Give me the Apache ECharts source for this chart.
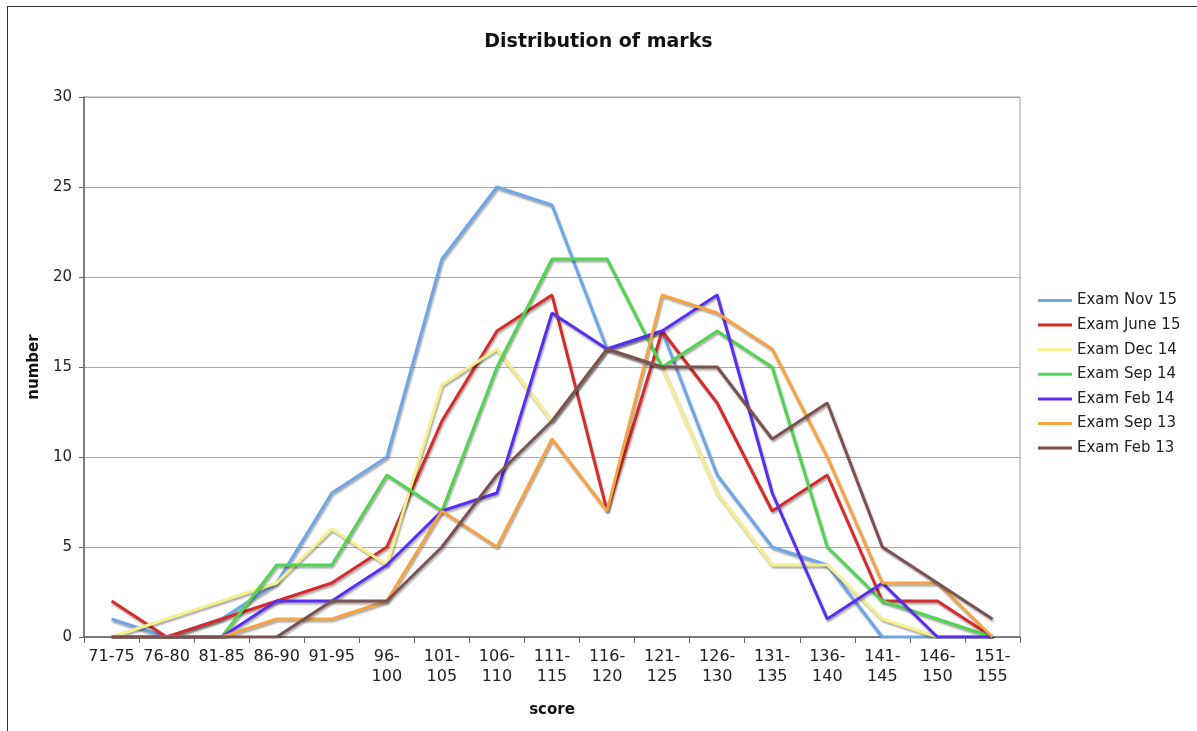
<!DOCTYPE html>
<html>
<head>
<meta charset="utf-8">
<script src="https://cdn.jsdelivr.net/npm/echarts@6/dist/echarts.min.js"></script>
<style>
html,body{margin:0;padding:0;background:#fff;}
#frame{position:absolute;left:7px;top:6px;width:1300px;height:900px;border:1.5px solid #333;box-sizing:border-box;}
#chart{position:absolute;left:0;top:0;width:1197px;height:731px;}
</style>
</head>
<body>
<div id="frame"></div>
<div id="chart"></div>
<script>
const categories = ["71-75","76-80","81-85","86-90","91-95","96-100","101-105","106-110","111-115","116-120","121-125","126-130","131-135","136-140","141-145","146-150","151-155"];
const seriesNames = ["Exam Nov 15","Exam June 15","Exam Dec 14","Exam Sep 14","Exam Feb 14","Exam Sep 13","Exam Feb 13"];
const examNov15  = [1,0,1,3,8,10,21,25,24,16,17,9,5,4,0,0,0];
const examJune15 = [2,0,1,2,3,5,12,17,19,7,17,13,7,9,2,2,0];
const examDec14  = [0,1,2,3,6,4,14,16,12,16,15,8,4,4,1,0,0];
const examSep14  = [0,0,0,4,4,9,7,15,21,21,15,17,15,5,2,1,0];
const examFeb14  = [0,0,0,2,2,4,7,8,18,16,17,19,8,1,3,0,0];
const examSep13  = [0,0,0,1,1,2,7,5,11,7,19,18,16,10,3,3,0];
const examFeb13  = [0,0,0,0,2,2,5,9,12,16,15,15,11,13,5,3,1];
const yTicks = [0,5,10,15,20,25,30];

const allData = [examNov15, examJune15, examDec14, examSep14, examFeb14, examSep13, examFeb13];
const colors = ["#6ea6e6","#d42b2b","#f6f08c","#52d452","#5a2ef0","#f5a444","#7b5151"];

const chart = echarts.init(document.getElementById('chart'));
const font = "'DejaVu Sans', Verdana, sans-serif";
chart.setOption({
  animation: false,
  color: colors,
  textStyle: {fontFamily: font},
  title: {
    text: 'Distribution of marks',
    left: 'center',
    top: 28,
    textStyle: {fontSize: 19, fontWeight: 'bold', color: '#111', fontFamily: font}
  },
  legend: {
    orient: 'vertical',
    left: 1033,
    top: 288,
    icon: 'rect',
    itemWidth: 34,
    itemHeight: 3,
    itemGap: 9.6,
    data: seriesNames,
    textStyle: {fontSize: 15, color: '#222', fontFamily: font}
  },
  grid: {
    left: 84, right: 177, top: 97, bottom: 94,
    show: true, borderColor: '#999', borderWidth: 1
  },
  xAxis: {
    type: 'category',
    data: categories,
    name: 'score',
    nameLocation: 'middle',
    nameGap: 66,
    nameTextStyle: {fontSize: 15, fontWeight: 'bold', color: '#111', fontFamily: font},
    axisLine: {lineStyle: {color: '#666', width: 1.5}},
    axisTick: {show: true, length: 6, lineStyle: {color: '#666'}},
    axisLabel: {
      fontSize: 16, color: '#222', lineHeight: 20, margin: 10, interval: 0,
      formatter: v => v.length > 5 ? v.replace('-', '-\n') : v
    }
  },
  yAxis: {
    type: 'value',
    min: yTicks[0], max: yTicks[yTicks.length-1], interval: 5,
    name: 'number',
    nameLocation: 'middle',
    nameGap: 42,
    nameTextStyle: {fontSize: 15, fontWeight: 'bold', color: '#111', fontFamily: font},
    axisLine: {show: true, lineStyle: {color: '#666', width: 1.5}},
    axisTick: {show: true, length: 5, lineStyle: {color: '#666'}},
    axisLabel: {fontSize: 15, color: '#222', margin: 12},
    splitLine: {lineStyle: {color: '#aaa', width: 1}}
  },
  series: seriesNames.map((n, i) => ({
    name: n,
    type: 'line',
    data: allData[i],
    symbol: 'none',
    lineStyle: {
      width: 3, color: colors[i],
      shadowColor: 'rgba(0,0,0,0.35)', shadowBlur: 2, shadowOffsetX: 1, shadowOffsetY: 2
    }
  }))
});
</script>
</body>
</html>
